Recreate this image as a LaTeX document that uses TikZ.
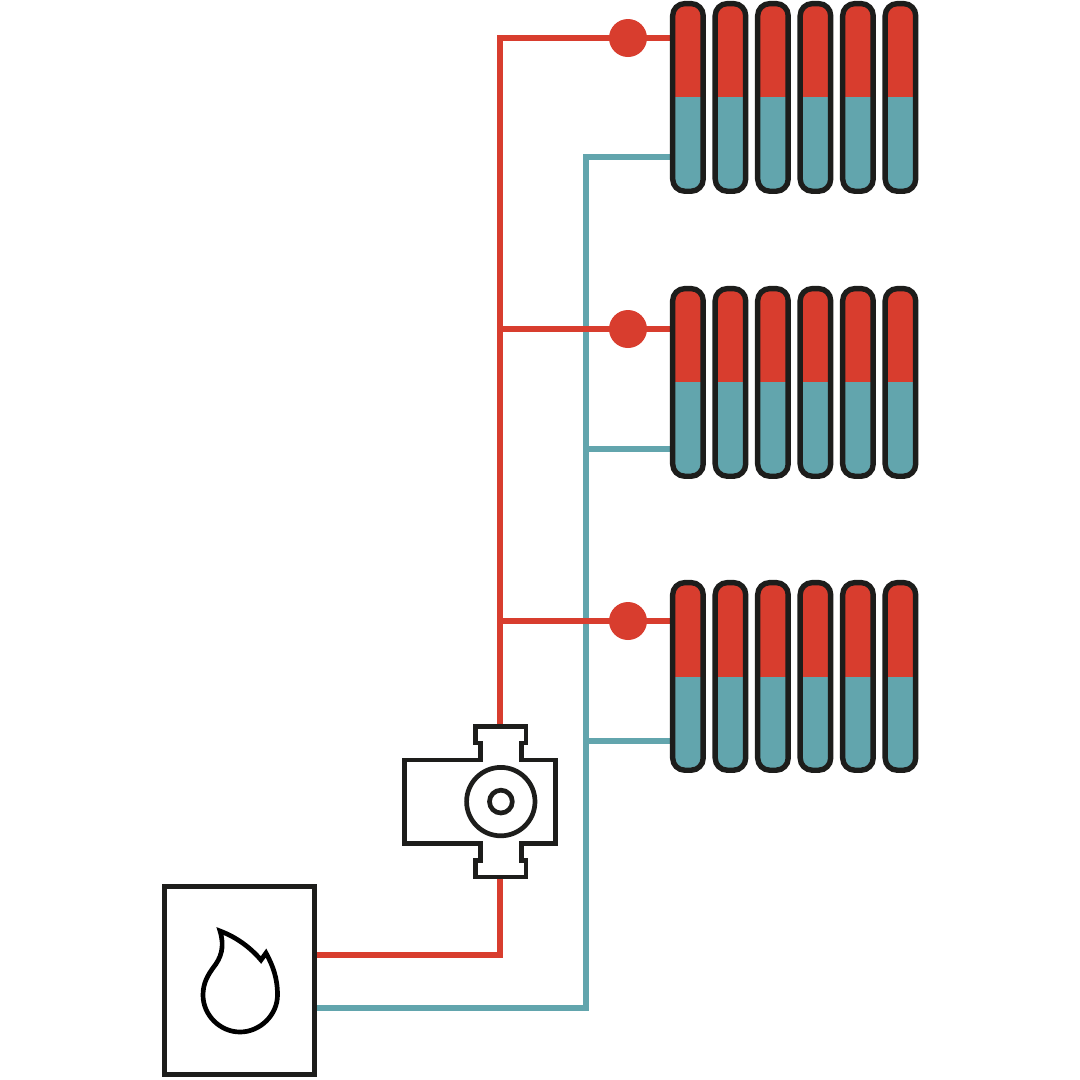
\documentclass[tikz,border=0pt]{standalone}
\definecolor{hotred}{RGB}{216,61,46}
\definecolor{coldteal}{RGB}{98,165,173}
\definecolor{inkblack}{RGB}{29,29,27}
\tikzset{
hotpipe/.style={hotred,line width=.52mm},
coldpipe/.style={coldteal,line width=.52mm},
outline/.style={inkblack,line width=.54mm},
pumpline/.style={inkblack,line width=.47mm},
valve/.style={circle,fill=hotred,inner sep=0pt,minimum size=3.8mm},
boilerbox/.style={draw=inkblack,line width=.5mm,fill=white,minimum width=15mm,minimum height=18.77mm,inner sep=0pt}
}
\begin{document}
\begin{tikzpicture}[x=.1mm,y=-.1mm]
\useasboundingbox (0,0) rectangle (1080,1080);
% pipe junctions
\coordinate (hotout) at (316,955);
\coordinate (coldout) at (316,1008);
\coordinate (hotbend) at (500,955);
\coordinate (coldbend) at (586,1008);
\coordinate (pumpin) at (500,878);
\coordinate (pumpout) at (500,726);
\foreach \y/\name in {38/a,329/b,621/c}{
\coordinate (hot\name) at (500,\y);
\coordinate (hotend\name) at (672,\y);}
\foreach \y/\name in {157/a,449/b,741/c}{
\coordinate (cold\name) at (586,\y);
\coordinate (coldend\name) at (672,\y);}
% return pipes
\draw[coldpipe] (coldout) -- (coldbend) -- (colda) -- (coldenda);
\foreach \name in {b,c}{\draw[coldpipe] (cold\name) -- (coldend\name);}
% flow pipes
\draw[hotpipe] (hotout) -- (hotbend) -- (pumpin);
\draw[hotpipe] (pumpout) -- (hota) -- (hotenda);
\foreach \name in {b,c}{\draw[hotpipe] (hot\name) -- (hotend\name);}
\foreach \y/\name in {38/a,329/b,621/c}{\node[valve] (valve\name) at (628,\y) {};}
% radiators
\foreach \off/\cut in {0/97,285/97,579/97.5}{
\begin{scope}[shift={(0,\off)}]
\foreach \i in {0,...,5}{
\begin{scope}[shift={(\i*42.5,0)}]
\begin{scope}
\clip[rounded corners=1.2mm] (672.7,3.6) rectangle (703.2,191.2);
\fill[hotred] (670,0) rectangle (706,\cut);
\fill[coldteal] (670,\cut) rectangle (706,195);
\end{scope}
\draw[outline,rounded corners=1.2mm] (672.7,3.6) rectangle (703.2,191.2);
\end{scope}}
\end{scope}}
% pump
\draw[pumpline,fill=white] (475.8,726.3) -- (475.8,743) -- (480.4,743) -- (480.4,760) -- (404.8,760) -- (404.8,843.7) -- (480.4,843.7) -- (480.4,860.4) -- (475.8,860.4) -- (475.8,877) -- (526,877) -- (526,860.4) -- (521.6,860.4) -- (521.6,843.7) -- (555.3,843.7) -- (555.3,760) -- (521.6,760) -- (521.6,743) -- (526,743) -- (526,726.3) -- cycle;
\draw[pumpline] (500.8,801.6) circle (3.42mm);
\draw[pumpline] (500.9,801.6) circle (1.14mm);
% boiler
\node[boilerbox] (boiler) at (239.8,980.8) {};
\draw[black,line width=.47mm,miter limit=6] (220,931) .. controls (236,937) and (250,947) .. (261,960) -- (266,953) .. controls (273,966) and (277.5,978) .. (277.5,995) .. controls (277.5,1015) and (260,1032) .. (240,1032) .. controls (220,1032) and (203,1015) .. (203,995) .. controls (203,983) and (208,975) .. (213,968) .. controls (221,958) and (225,947) .. (220,931) -- cycle;
\end{tikzpicture}
\end{document}
